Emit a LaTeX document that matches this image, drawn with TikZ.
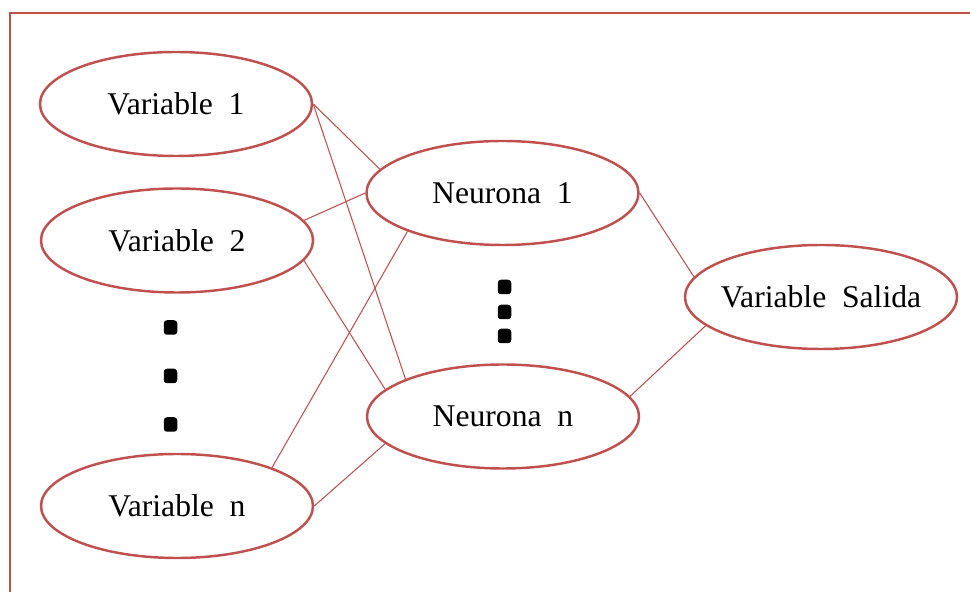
\documentclass[tikz,border=0pt]{standalone}
\usepackage{fontspec}
\setmainfont{Liberation Serif}
\usepackage{tikz}
\usetikzlibrary{shapes.geometric}
\definecolor{brickred}{HTML}{C0504D}

\begin{document}
\begin{tikzpicture}[
    var/.style={draw=brickred,line width=1.4pt,ellipse,minimum width=5.44cm,minimum height=2.08cm,inner sep=0pt,font=\fontsize{18}{22}\selectfont},
    link/.style={draw=brickred,line width=.6pt},
    dot/.style={fill=black,rectangle,rounded corners=1.8pt,minimum width=.27cm,minimum height=.29cm,inner sep=0pt}]
    \useasboundingbox (0,0) rectangle (19.4,11.84);
    \draw[brickred,line width=1.4pt] (.2,0) -- (.2,11.58) -- (19.4,11.58);
    \node[var] (V1) at (3.52,9.76) {Variable\ \ 1};
    \node[var] (V2) at (3.54,7.03) {Variable\ \ 2};
    \node[var] (Vn) at (3.54,1.72) {Variable\ \ n};
    \node[var] (N1) at (10.05,7.98) {Neurona\ \ 1};
    \node[var] (Nn) at (10.06,3.51) {Neurona\ \ n};
    \node[var,inner xsep=-.3cm] (VS) at (16.42,5.90) {Variable\ \ Salida};
    \node[dot] (l1) at (3.41,5.29) {};
    \node[dot] (l2) at (3.41,4.32) {};
    \node[dot] (l3) at (3.41,3.35) {};
    \node[dot] (m1) at (10.09,6.10) {};
    \node[dot] (m2) at (10.09,5.60) {};
    \node[dot] (m3) at (10.09,5.12) {};
    \draw[link] (V1.0) -- (N1.169);
    \draw[link] (V1.0) -- (Nn.159);
    \draw[link] (V2.9) -- (N1.180);
    \draw[link] (V2.-9) -- (Nn.167);
    \draw[link] (Vn.22) -- (N1.202);
    \draw[link] (Vn.0) -- (Nn.193);
    \draw[link] (N1.0) -- (VS.171);
    \draw[link] (Nn.9) -- (VS.194);
  \end{tikzpicture}
\end{document}
